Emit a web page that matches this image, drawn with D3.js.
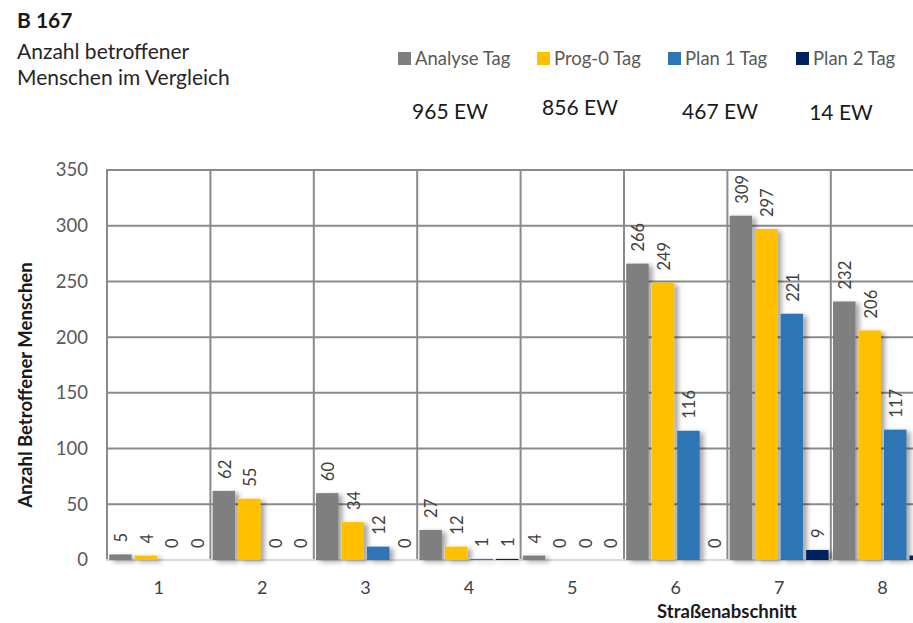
<!DOCTYPE html>
<html>
<head>
<meta charset="utf-8">
<script src="https://cdn.jsdelivr.net/npm/d3@7"></script>
<style>
  html, body { margin: 0; padding: 0; background: #fff; }
  svg { display: block; font-family: Lato, "Open Sans", sans-serif; }
</style>
</head>
<body>
<svg id="chart" width="913" height="623"></svg>
<script>
// Straßenabschnitte (road sections) of the B 167
const sections = ["1", "2", "3", "4", "5", "6", "7", "8"];
const seriesNames = ["Analyse Tag", "Prog-0 Tag", "Plan 1 Tag", "Plan 2 Tag"];
const seriesColors = ["#7f7f7f", "#ffc000", "#2e75b6", "#002060"];

// Affected people per section, one array per scenario
const analyseTag = [5, 62, 60, 27, 4, 266, 309, 232];
const prog0Tag   = [4, 55, 34, 12, 0, 249, 297, 206];
const plan1Tag   = [0, 0, 12, 1, 0, 116, 221, 117];
const plan2Tag   = [0, 0, 0, 1, 0, 0, 9, 4];

// Totals in Einwohnern (EW) printed under the legend
const totalsEW = [965, 856, 467, 14];

const yTicks = [0, 50, 100, 150, 200, 250, 300, 350];

const seriesValues = [analyseTag, prog0Tag, plan1Tag, plan2Tag];

const svg = d3.select("#chart");
const W = 913, H = 623;

const plot = { left: 107, top: 170, bottom: 560 };
const bandW = 103.4;

const x0 = d3.scaleBand()
  .domain(sections)
  .range([plot.left, plot.left + bandW * sections.length])
  .paddingInner(0).paddingOuter(0);

const x1 = d3.scaleBand()
  .domain(seriesNames)
  .range([0, x0.bandwidth()])
  .paddingInner(0.118)
  .paddingOuter(0.087);

const y = d3.scaleLinear().domain([0, 350]).range([plot.bottom, plot.top]);

// drop shadow under bars
const defs = svg.append("defs");
const f = defs.append("filter").attr("id", "shadow")
  .attr("x", "-30%").attr("y", "-10%").attr("width", "180%").attr("height", "130%");
f.append("feDropShadow")
  .attr("dx", 4).attr("dy", 2).attr("stdDeviation", 2.5)
  .attr("flood-color", "#000").attr("flood-opacity", 0.35);

const gridColor = "#8a8a8a";

const g = svg.append("g");

// horizontal gridlines (0 is the axis line, drawn separately)
g.selectAll("line.hgrid")
  .data(yTicks.filter(d => d > 0))
  .join("line")
  .attr("class", "hgrid")
  .attr("x1", plot.left).attr("x2", x0.range()[1])
  .attr("y1", d => y(d)).attr("y2", d => y(d))
  .attr("stroke", gridColor).attr("stroke-width", 2);

// vertical gridlines at section boundaries
const boundaries = sections.map(s => x0(s)).concat([x0.range()[1]]);
g.selectAll("line.vgrid")
  .data(boundaries)
  .join("line")
  .attr("class", "vgrid")
  .attr("x1", d => d).attr("x2", d => d)
  .attr("y1", plot.top - 1).attr("y2", plot.bottom)
  .attr("stroke", gridColor).attr("stroke-width", 2);

// category axis line
g.append("line")
  .attr("x1", plot.left - 1).attr("x2", x0.range()[1])
  .attr("y1", plot.bottom).attr("y2", plot.bottom)
  .attr("stroke", "#d9d9d9").attr("stroke-width", 2);

// bars
const barData = [];
sections.forEach((s, i) => {
  seriesNames.forEach((n, j) => {
    barData.push({ section: s, series: n, color: seriesColors[j], value: seriesValues[j][i] });
  });
});
const barCenter = d => x0(d.section) + x1(d.series) + x1.bandwidth() / 2;

const bars = g.append("g").attr("filter", "url(#shadow)");
bars.selectAll("rect")
  .data(barData.filter(d => d.value > 0))
  .join("rect")
  .attr("x", d => x0(d.section) + x1(d.series))
  .attr("width", x1.bandwidth())
  .attr("y", d => y(d.value))
  .attr("height", d => y(0) - y(d.value))
  .attr("fill", d => d.color);

// value labels, rotated; only those whose bar centre lies inside the canvas
g.selectAll("text.vlabel")
  .data(barData.filter(d => barCenter(d) < W))
  .join("text")
  .attr("class", "vlabel")
  .attr("transform", d => `translate(${barCenter(d) + 1},${y(d.value) - 12}) rotate(-90)`)
  .attr("dy", "0.35em")
  .attr("text-anchor", "start")
  .attr("font-size", 16.5)
  .attr("fill", "#404040")
  .text(d => d.value);

// y axis tick labels
const yAxis = d3.axisLeft(y).tickValues(yTicks).tickSize(0).tickPadding(19);
const ya = svg.append("g").attr("transform", `translate(${plot.left},0)`).call(yAxis);
ya.select(".domain").remove();
ya.selectAll("text").attr("font-size", 18.5).attr("fill", "#595959")
  .attr("font-family", "Lato, sans-serif");

// x axis tick labels
const xAxis = d3.axisBottom(x0).tickSize(0).tickPadding(21);
const xa = svg.append("g").attr("transform", `translate(0,${plot.bottom})`).call(xAxis);
xa.select(".domain").remove();
xa.selectAll("text").attr("font-size", 18).attr("fill", "#404040")
  .attr("font-family", "Lato, sans-serif");

// axis titles
svg.append("text")
  .attr("x", 727).attr("y", 618)
  .attr("text-anchor", "middle")
  .attr("font-size", 18.5).attr("font-weight", "bold").attr("fill", "#1a1a1a")
  .text("Straßenabschnitt");

svg.append("text")
  .attr("transform", "translate(32,385) rotate(-90)")
  .attr("text-anchor", "middle")
  .attr("font-size", 18.5).attr("font-weight", "bold").attr("fill", "#1a1a1a")
  .text("Anzahl Betroffener Menschen");

// title block
svg.append("text").attr("x", 17).attr("y", 28)
  .attr("font-size", 21).attr("font-weight", "bold").attr("fill", "#1a1a1a")
  .text("B 167");
svg.append("text").attr("x", 17).attr("y", 59)
  .attr("font-size", 21).attr("fill", "#262626")
  .text("Anzahl betroffener");
svg.append("text").attr("x", 17).attr("y", 85)
  .attr("font-size", 21).attr("fill", "#262626")
  .text("Menschen im Vergleich");

// legend
const legendX = [398, 537, 668, 796];
const legend = svg.append("g");
seriesNames.forEach((n, i) => {
  legend.append("rect")
    .attr("x", legendX[i]).attr("y", 52)
    .attr("width", 13).attr("height", 13)
    .attr("fill", seriesColors[i]);
  legend.append("text")
    .attr("x", legendX[i] + 17).attr("y", 65)
    .attr("font-size", 18.5).attr("fill", "#595959")
    .text(n);
});

// totals per scenario
const totalsX = [450, 580, 720, 841];
const totalsY = [119, 115, 119, 120];
totalsEW.forEach((t, i) => {
  svg.append("text")
    .attr("x", totalsX[i]).attr("y", totalsY[i])
    .attr("text-anchor", "middle")
    .attr("font-size", 21).attr("fill", "#1a1a1a")
    .text(`${t} EW`);
});
</script>
</body>
</html>
